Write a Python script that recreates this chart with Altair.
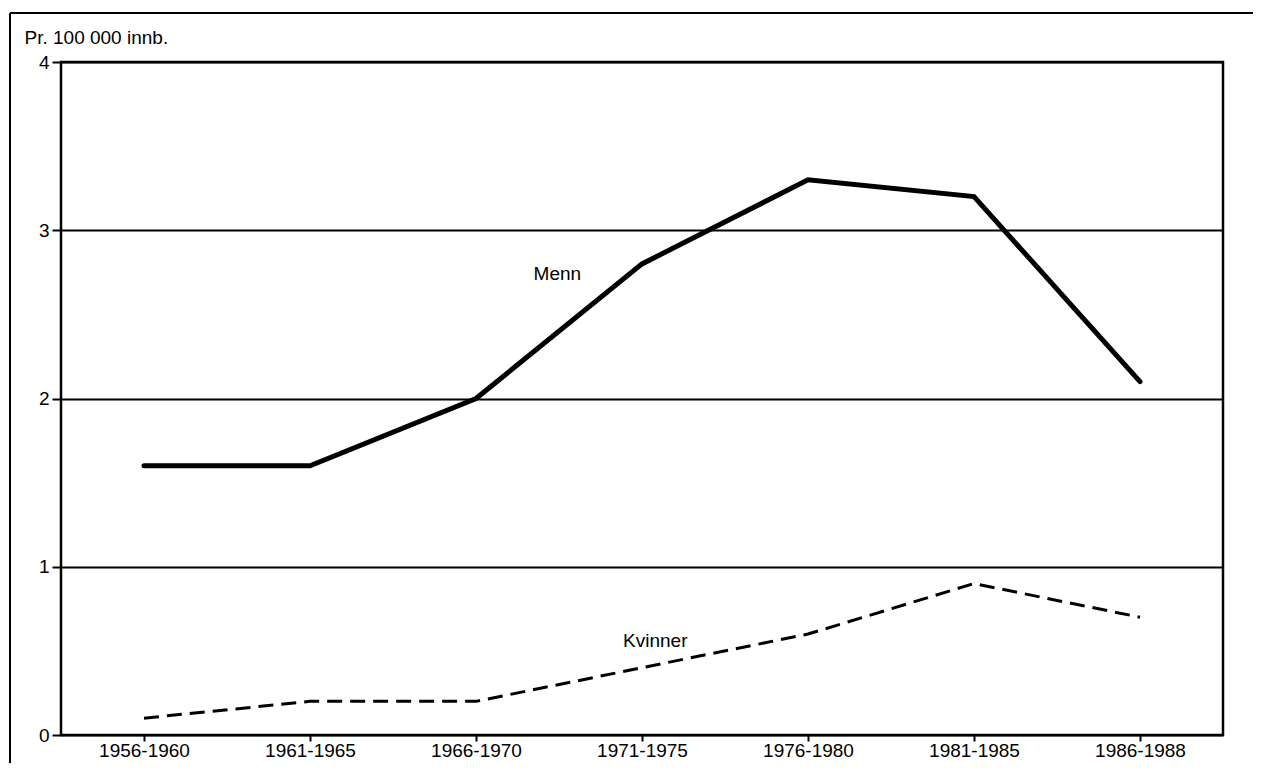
import json
import altair as alt
import pandas as pd

periods = ["1956-1960", "1961-1965", "1966-1970", "1971-1975",
           "1976-1980", "1981-1985", "1986-1988"]
menn = [1.6, 1.6, 2.0, 2.8, 3.3, 3.2, 2.1]
kvinner = [0.1, 0.2, 0.2, 0.4, 0.6, 0.9, 0.7]

label_text = ["Menn", "Kvinner"]
label_x = [2.49, 3.08]
label_y = [2.74, 0.56]

idx = list(range(len(periods)))
df_m = pd.DataFrame({"i": idx, "v": menn})
df_k = pd.DataFrame({"i": idx, "v": kvinner})
df_lab = pd.DataFrame({"t": label_text, "x": label_x, "y": label_y})

FONT = "Liberation Sans"
FS = 19
label_expr = json.dumps(periods) + "[datum.value]"

xs = alt.Scale(domain=[-0.5, len(periods) - 0.5], nice=False, zero=False)
ys = alt.Scale(domain=[0, 4], nice=False)

x_axis = alt.Axis(values=idx, labelExpr=label_expr, grid=False, title=None,
                  domain=False, tickColor="black", tickWidth=2, tickSize=6,
                  labelFont=FONT, labelFontSize=FS, labelColor="black",
                  labelPadding=0)
y_axis = alt.Axis(values=[0, 1, 2, 3, 4], format="d", grid=True,
                  gridColor="black", gridWidth=2, gridOpacity=1, domain=False,
                  tickColor="black", tickWidth=2, tickSize=9, labelFont=FONT,
                  labelFontSize=FS, labelColor="black", labelPadding=3,
                  title="Pr. 100 000 innb.", titleAngle=0, titleAlign="left",
                  titleBaseline="alphabetic", titleX=-37, titleY=-19,
                  titleFont=FONT, titleFontSize=FS, titleFontWeight="normal",
                  titleColor="black")

line_m = alt.Chart(df_m).mark_line(color="black", strokeWidth=5,
                                    strokeCap="round").encode(
    x=alt.X("i:Q", scale=xs, axis=x_axis),
    y=alt.Y("v:Q", scale=ys, axis=y_axis),
)
line_k = alt.Chart(df_k).mark_line(color="black", strokeWidth=3,
                                    strokeDash=[15, 8]).encode(
    x=alt.X("i:Q", scale=xs),
    y=alt.Y("v:Q", scale=ys),
)
labels = alt.Chart(df_lab).mark_text(font=FONT, fontSize=FS, color="black").encode(
    x=alt.X("x:Q", scale=xs),
    y=alt.Y("y:Q", scale=ys),
    text="t:N",
)

frame_df = pd.DataFrame({"k": [0]})
frame_top = alt.Chart(frame_df).mark_rule(color="black", strokeWidth=2).encode(
    x=alt.value(-51), x2=alt.value(1192), y=alt.value(-49))
frame_left = alt.Chart(frame_df).mark_rule(color="black", strokeWidth=2).encode(
    x=alt.value(-51), y=alt.value(-49), y2=alt.value(710))

chart = alt.layer(frame_top, frame_left, line_m, line_k, labels).properties(
    width=1162, height=673,
    autosize=alt.AutoSizeParams(type="none"),
    padding={"left": 53, "top": 54, "right": 30, "bottom": 28},
).configure(
    background="white",
    view=alt.ViewConfig(stroke="black", strokeWidth=2.5),
)

chart.save("out.html", embed_options={"renderer": "svg", "actions": False})
